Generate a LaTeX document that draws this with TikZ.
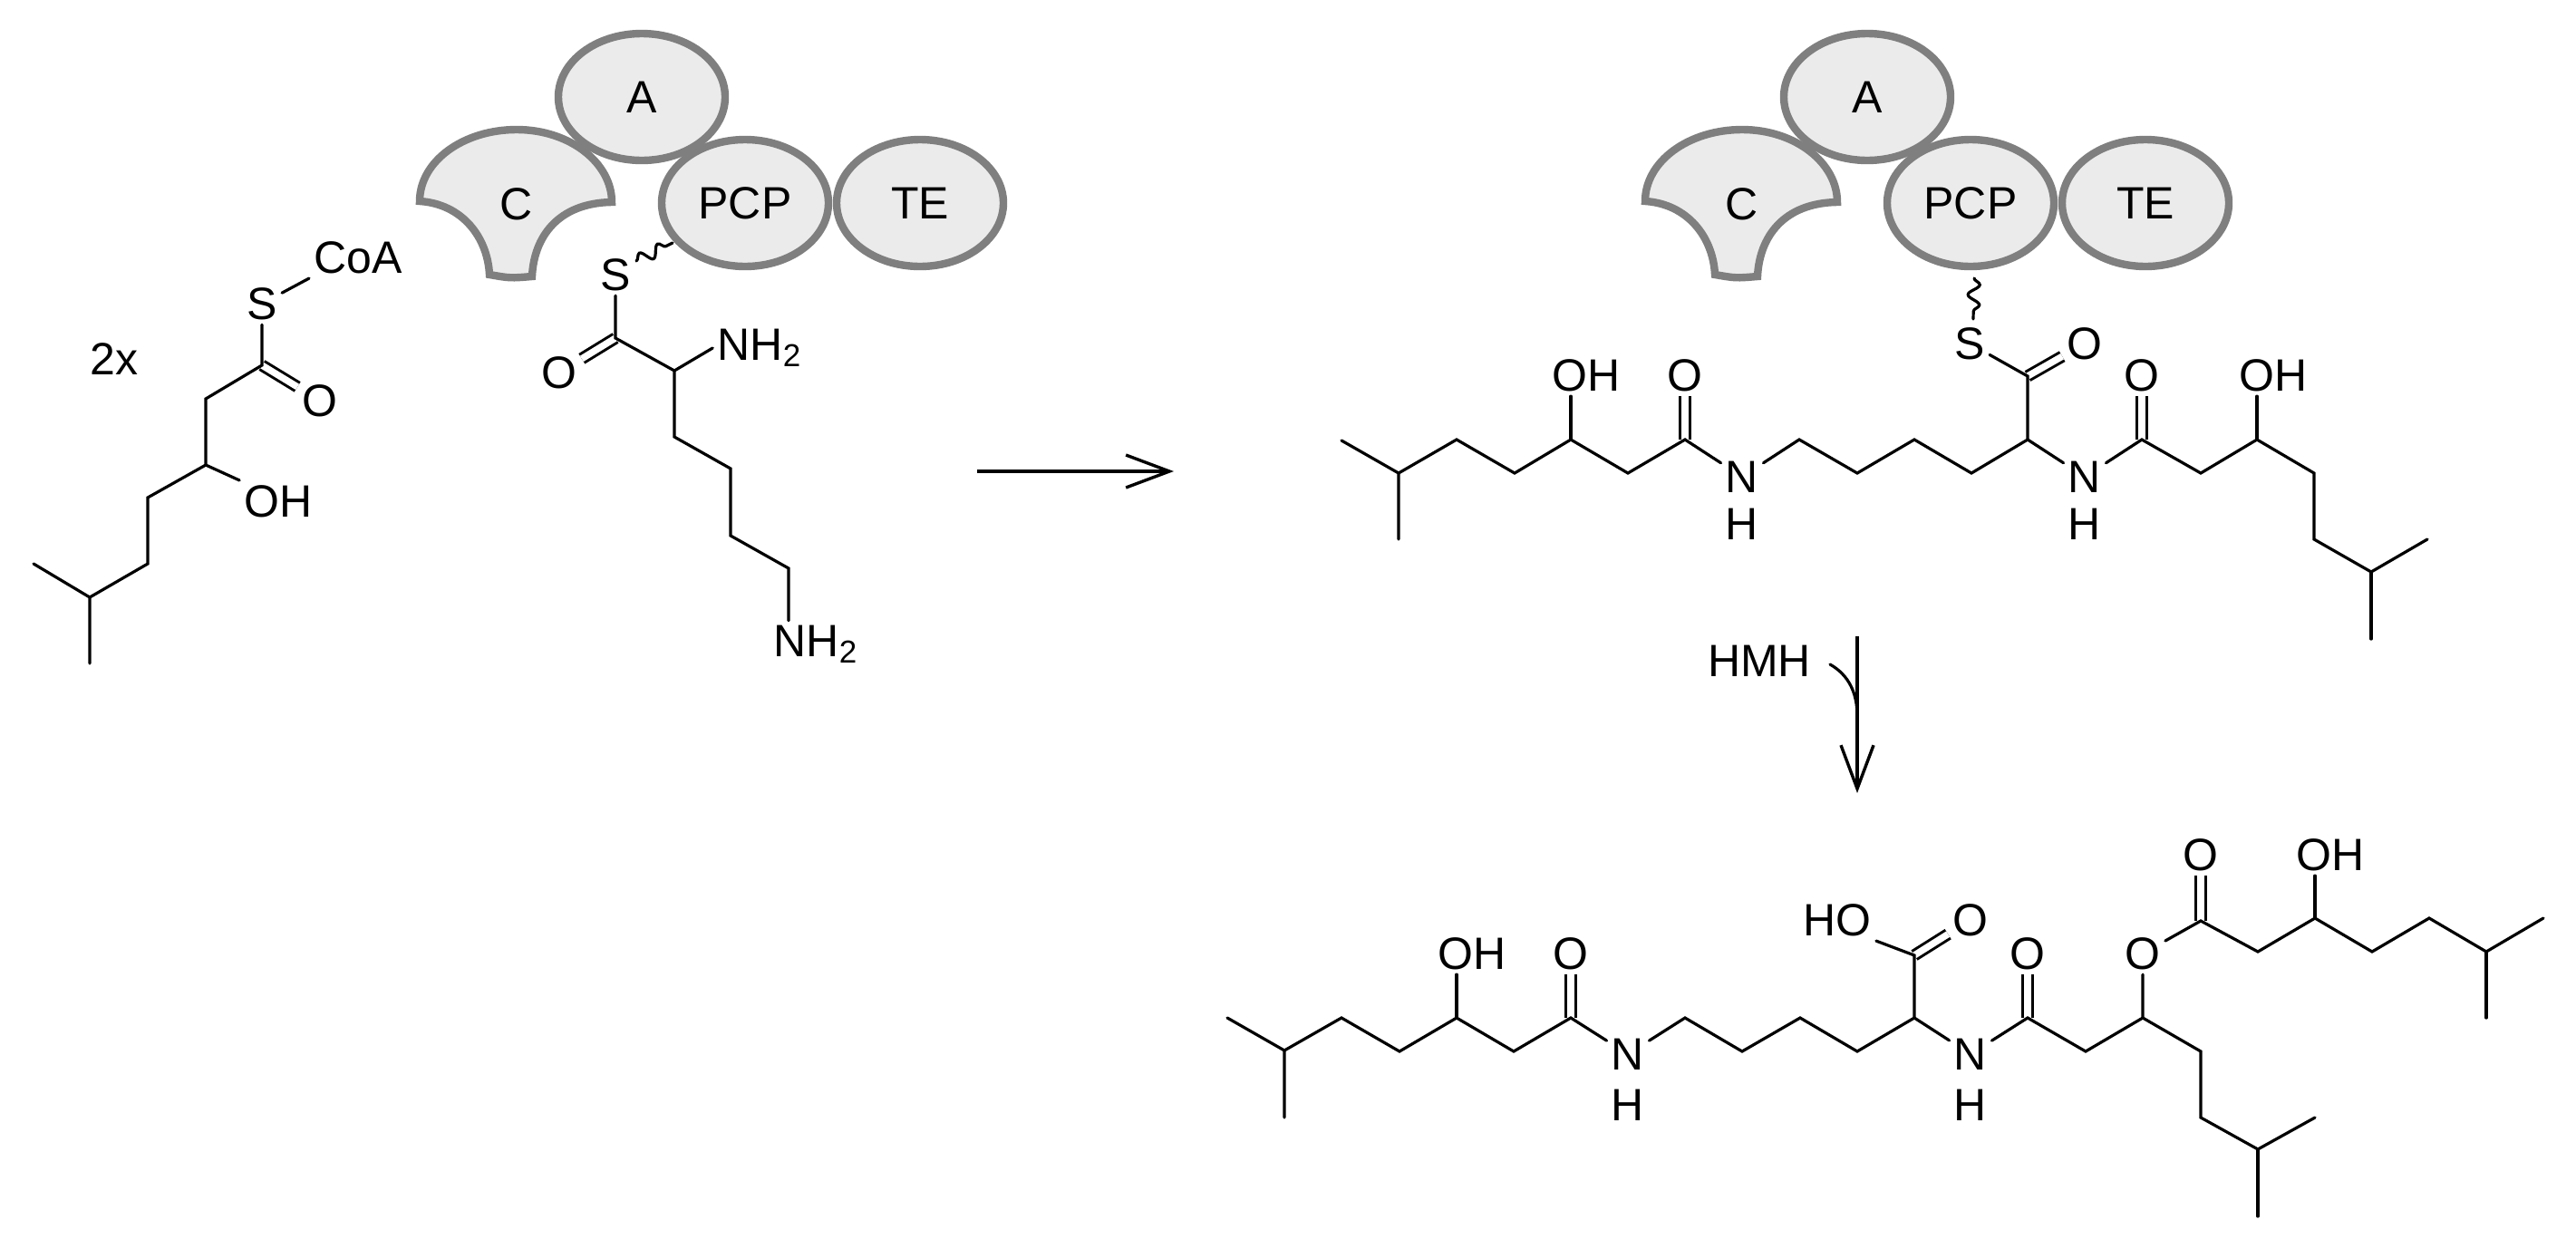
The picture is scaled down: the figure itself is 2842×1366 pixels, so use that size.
\documentclass[tikz,border=0pt]{standalone}
\usepackage{fontspec}
\setmainfont{Liberation Sans}
\usetikzlibrary{shapes.geometric}
\usetikzlibrary{arrows.meta}
\usetikzlibrary{decorations.pathmorphing}
\definecolor{domfill}{HTML}{EBEBEB}
\definecolor{domline}{HTML}{7F7F7F}
\tikzset{
  atom/.style={font=\fontsize{25}{25}\selectfont, inner sep=2.5pt},
  bond/.style={line width=1.6pt, line cap=round},
  dbond/.style={line width=1.5pt, double, double distance=3.7pt},
  wavy/.style={line width=1.6pt, line cap=round, decorate, decoration={snake, amplitude=3.2pt, segment length=11.2pt}},
  rxn/.style={line width=1.7pt, -{Straight Barb[length=24pt,width=18pt,line width=1.7pt]}},
  dom/.style={fill=domfill, draw=domline, line width=4.2pt},
  round dom/.style={dom, ellipse, minimum width=92pt, minimum height=70pt, inner sep=0pt, font=\fontsize{25}{25}\selectfont},
}
\begin{document}
\begin{tikzpicture}[x=.5pt,y=-.5pt]
\useasboundingbox (0,0) rectangle (2842,1366);
% left domains
\draw[dom] (463,222) .. controls (463,178) and (511,143) .. (570,143) .. controls (629,143) and (675,180) .. (675,223) .. controls (615,224) and (589,262) .. (587,305) .. controls (563,307) .. (540,303) .. controls (538,262) and (510,225) .. (463,222) -- cycle;
\node[atom] (lC) at (570,225) {C};
\node[round dom] (lA) at (708,107) {A};
\node[round dom] (lPCP) at (822,224) {PCP};
\node[round dom] (lTE) at (1015,224) {TE};
% right domains
\draw[dom] (1815,222) .. controls (1815,178) and (1863,143) .. (1922,143) .. controls (1981,143) and (2027,180) .. (2027,223) .. controls (1967,224) and (1941,262) .. (1939,305) .. controls (1915,307) .. (1892,303) .. controls (1890,262) and (1862,225) .. (1815,222) -- cycle;
\node[atom] (rC) at (1922,225) {C};
\node[round dom] (rA) at (2060,107) {A};
\node[round dom] (rPCP) at (2174,224) {PCP};
\node[round dom] (rTE) at (2367,224) {TE};
% atoms
\node[atom] (two) at (126,396) {2x};
\node[atom] (aS) at (289,335) {S};
\node[atom] (aCoA) at (395,284) {CoA};
\node[atom] (aO) at (353,442) {O};
\node[atom] (aOH) at (307,553) {OH};
\node[atom] (bS) at (679,303) {S};
\node[atom] (bO) at (617,411) {O};
\node[atom] (bNH) at (838,384) {NH\textsubscript{2}};
\node[atom] (bNHb) at (900,711) {NH\textsubscript{2}};
\node[atom] (tOHa) at (1750,414) {OH};
\node[atom] (tOa) at (1859,414) {O};
\node[atom] (tNa) at (1922,526) {N};
\node[atom] (tHa) at (1922,578) {H};
\node[atom] (tS) at (2173,379) {S};
\node[atom] (tOb) at (2300,379) {O};
\node[atom] (tNb) at (2300,526) {N};
\node[atom] (tHb) at (2300,578) {H};
\node[atom] (tOc) at (2363,414) {O};
\node[atom] (tOHb) at (2508,414) {OH};
\node[atom] (hmh) at (1941,729) {HMH};
\node[atom] (uOHa) at (1624,1052) {OH};
\node[atom] (uOa) at (1733,1052) {O};
\node[atom] (uNa) at (1796,1163) {N};
\node[atom] (uHa) at (1796,1219) {H};
\node[atom] (uHO) at (2027,1015) {HO};
\node[atom] (uOb) at (2174,1015) {O};
\node[atom] (uNb) at (2174,1163) {N};
\node[atom] (uHb) at (2174,1219) {H};
\node[atom] (uOc) at (2237,1052) {O};
\node[atom] (uOe) at (2364,1052) {O};
\node[atom] (uOd) at (2428,943) {O};
\node[atom] (uOHb) at (2571,943) {OH};
% skeleton points
\foreach \n/\x/\y in {a1/37/622,a2/99/659,a3/99/732,a4/163/622,a5/163/549,a6/227/513,a7/227/440,a8/289/403,
  b1/679/373,b2/744/409,b3/744/482,b4/806/517,b5/806/591,b6/870/627,
  t1/1480/486,t2/1543/522,t3/1543/595,t4/1607/485,t5/1671/522,t6/1733/485,t7/1796/522,t8/1859/485,
  t9/1985/485,t10/2049/522,t11/2112/485,t12/2175/522,t13/2237/485,t14/2237/415,t15/2363/485,t16/2428/522,
  t17/2490/485,t18/2553/522,t19/2553/595,t20/2616/631,t21/2678/595,t22/2616/705,
  u1/1354/1123,u2/1417/1159,u3/1417/1233,u4/1480/1123,u5/1544/1160,u6/1607/1123,u7/1670/1160,u8/1733/1123,
  u9/1859/1123,u10/1922/1160,u11/1986/1123,u12/2049/1160,u13/2112/1123,u14/2112/1054,u15/2237/1123,u16/2301/1160,
  u17/2364/1123,u18/2428/1016,u19/2491/1050,u20/2554/1013,u21/2617/1050,u22/2680/1013,u23/2743/1050,u24/2806/1013,u25/2743/1123,
  u26/2428/1160,u27/2428/1233,u28/2491/1268,u29/2554/1233,u30/2491/1342,
  arrowa/1078/520,arrowb/1295/520,arrowc/2049/702,arrowd/2049/875,bendstart/2019/733,bendend/2049/790,
  wavea/702/288,waveb/742/268,wavec/2178/307,waved/2177/352}
  \coordinate (\n) at (\x,\y);
% double bonds first
\draw[dbond] (a8) -- (aO);
\draw[dbond] (b1) -- (bO);
\draw[dbond] (t8) -- (tOa);
\draw[dbond] (t14) -- (tOb);
\draw[dbond] (t15) -- (tOc);
\draw[dbond] (u8) -- (uOa);
\draw[dbond] (u14) -- (uOb);
\draw[dbond] (u15) -- (uOc);
\draw[dbond] (u18) -- (uOd);
% left acyl
\draw[bond] (a1) -- (a2) -- (a3);
\draw[bond] (a2) -- (a4) -- (a5) -- (a6) -- (a7) -- (a8) -- (aS);
\draw[bond] (a6) -- (aOH.north west);
\draw[bond] (aS) -- (aCoA.south west);
% lysine
\draw[bond] (bS) -- (b1) -- (b2) -- (b3) -- (b4) -- (b5) -- (b6) -- (bNHb.north -| b6);
\draw[bond] (b2) -- (bNH.west);
\draw[wavy] (wavea) -- (waveb);
% top product
\draw[bond] (t1) -- (t2) -- (t3);
\draw[bond] (t2) -- (t4) -- (t5) -- (t6) -- (t7) -- (t8) -- (tNa) -- (t9) -- (t10) -- (t11) -- (t12) -- (t13) -- (tNb) -- (t15) -- (t16) -- (t17) -- (t18) -- (t19) -- (t20) -- (t21);
\draw[bond] (t20) -- (t22);
\draw[bond] (t6) -- (tOHa.south -| t6);
\draw[bond] (t17) -- (tOHb.south -| t17);
\draw[bond] (t13) -- (t14) -- (tS);
\draw[wavy] (wavec) -- (waved);
% bottom product
\draw[bond] (u1) -- (u2) -- (u3);
\draw[bond] (u2) -- (u4) -- (u5) -- (u6) -- (u7) -- (u8) -- (uNa) -- (u9) -- (u10) -- (u11) -- (u12) -- (u13) -- (uNb) -- (u15) -- (u16) -- (u17) -- (uOe) -- (u18) -- (u19) -- (u20) -- (u21) -- (u22) -- (u23) -- (u24);
\draw[bond] (u23) -- (u25);
\draw[bond] (u6) -- (uOHa.south -| u6);
\draw[bond] (u20) -- (uOHb.south -| u20);
\draw[bond] (u13) -- (u14) -- (uHO.south east);
\draw[bond] (u17) -- (u26) -- (u27) -- (u28) -- (u29);
\draw[bond] (u28) -- (u30);
% arrows
\draw[rxn] (arrowa) -- (arrowb);
\draw[rxn] (arrowc) -- (arrowd);
\draw[bond] (bendstart) .. controls +(21,12) and +(0,-25) .. (bendend);
\end{tikzpicture}
\end{document}
